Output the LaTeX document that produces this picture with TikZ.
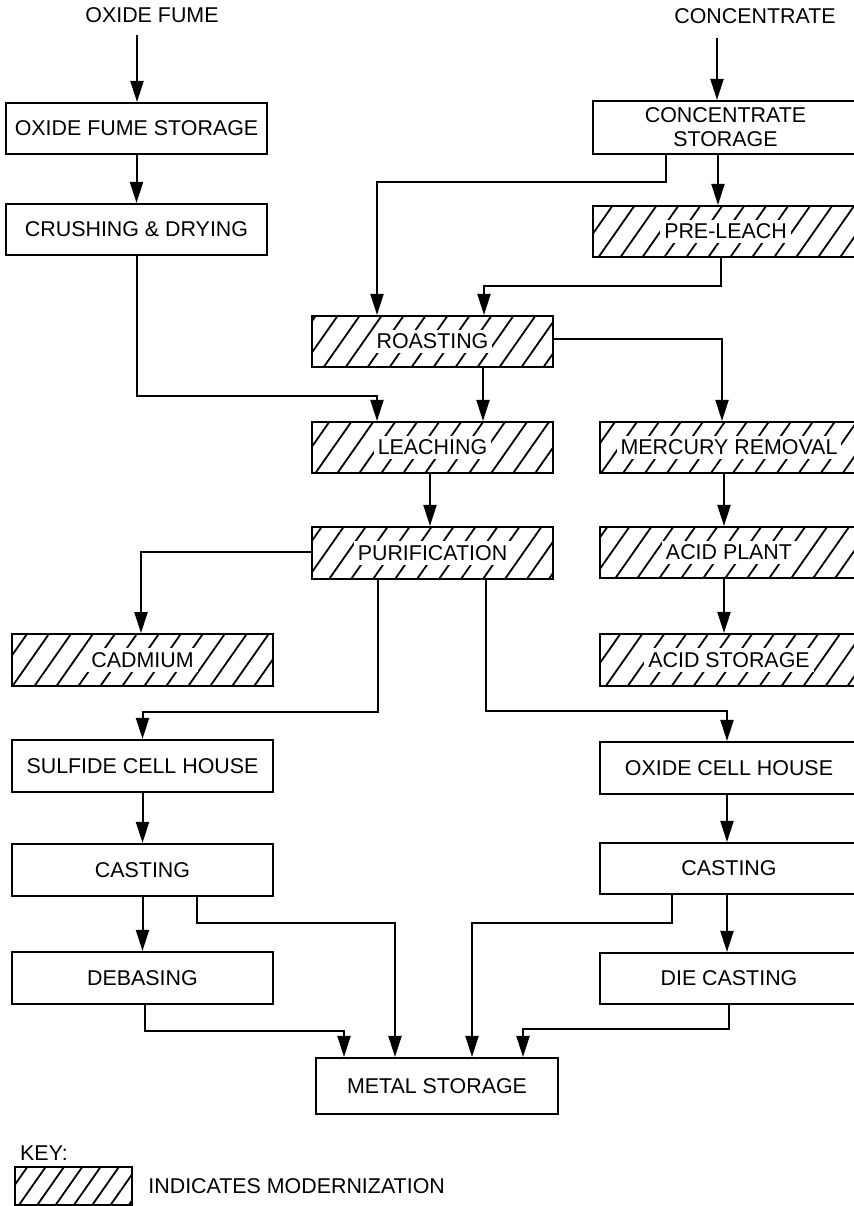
\documentclass[tikz,border=0pt]{standalone}
\usepackage{fontspec}
\setmainfont{Liberation Sans}
\usetikzlibrary{arrows.meta,patterns.meta}
\newcommand\hlt[1]{{\setlength{\fboxsep}{2pt}\colorbox{white}{#1}}}
\begin{document}
\begin{tikzpicture}[x=0.5pt,y=-0.5pt,
  font=\fontsize{10.7}{12}\selectfont,
  box/.style={draw, line width=1.05pt, inner sep=0pt, align=center, minimum width=#1},
  box/.default=130.5pt,
  hh/.style={minimum height=#1},
  hatch/.style={box=#1, pattern={Lines[angle=55,distance=9pt,line width=0.9pt]}},
  hatch/.default=130.5pt,
  conn/.style={line width=1pt, -{Triangle[length=10.5pt,width=6.5pt]}}]
\useasboundingbox (0,0) rectangle (854,1206);
\clip (0,0) rectangle (854,1206);

% top inputs
\node (t1) at (152,15) {OXIDE FUME};
\node (t2) at (755,16) {CONCENTRATE};
\coordinate (s1) at (137,35);
\coordinate (s2) at (717,38);

% left column
\node[box, hh=25.5pt] (ofs) at (136.5,128.5) {OXIDE FUME STORAGE};
\node[box, hh=25.5pt] (crush) at (136.5,229.5) {CRUSHING \& DRYING};
\node[hatch, hh=26pt] (cad) at (142.5,660) {\hlt{CADMIUM}};
\node[box, hh=26pt] (sulf) at (142.5,766) {SULFIDE CELL HOUSE};
\node[box, hh=26pt] (cast1) at (142.5,870) {CASTING};
\node[box, hh=26pt] (deb) at (142.5,978) {DEBASING};

% middle column
\node[hatch=120.5pt, hh=25.5pt] (roast) at (432.5,341.5) {\hlt{ROASTING}};
\node[hatch=120.5pt, hh=25.5pt] (leach) at (432.5,447.5) {\hlt{LEACHING}};
\node[hatch=120.5pt, hh=26pt] (purif) at (432.5,553) {\hlt{PURIFICATION}};
\node[box=121pt, hh=28pt] (metal) at (437,1086) {METAL STORAGE};

% right column
\node[box=132.5pt, hh=26.5pt] (cs) at (725.5,127.5) {CONCENTRATE\\STORAGE};
\node[hatch=132.5pt, hh=25.5pt] (pre) at (725.5,231.5) {\hlt{PRE-LEACH}};
\node[hatch=129pt, hh=25.5pt] (merc) at (729,447.5) {\hlt{MERCURY REMOVAL}};
\node[hatch=129pt, hh=25.5pt] (acidp) at (729,552.5) {\hlt{ACID PLANT}};
\node[hatch=129pt, hh=26pt] (acids) at (729,660) {\hlt{ACID STORAGE}};
\node[box=129pt, hh=26pt] (ocell) at (729,768) {OXIDE CELL HOUSE};
\node[box=129pt, hh=25.5pt] (cast2) at (729,868.5) {CASTING};
\node[box=129pt, hh=25.5pt] (die) at (729,978.5) {DIE CASTING};

% key
\node (keyt) at (44,1153) {KEY:};
\node[box=58.5pt, hh=19pt, pattern={Lines[angle=55,distance=7.5pt,line width=0.9pt]}] (keybox) at (73.5,1186) {};
\node[anchor=west, inner sep=0pt] (keylab) at (148,1186) {INDICATES MODERNIZATION};

% bend levels
\coordinate (h3) at (0,396);
\coordinate (h5) at (0,182);
\coordinate (h7) at (0,286);
\coordinate (h12) at (0,712);
\coordinate (h13) at (0,711);
\coordinate (h18) at (0,923);
\coordinate (h19) at (0,1031);
\coordinate (h22) at (0,923);
\coordinate (h23) at (0,1029);

% shifted ports
\coordinate (leachA) at ([xshift=-27.75pt]leach.north);
\coordinate (leachB) at ([xshift=25.25pt]leach.north);
\coordinate (csA) at ([xshift=-29.75pt]cs.south);
\coordinate (csB) at ([xshift=-3.75pt]cs.south);
\coordinate (preIn) at ([xshift=-3.75pt]pre.north);
\coordinate (preOut) at ([xshift=-2.25pt]pre.south);
\coordinate (roastA) at ([xshift=-27.75pt]roast.north);
\coordinate (roastB) at ([xshift=25.75pt]roast.north);
\coordinate (roastS) at ([xshift=25.25pt]roast.south);
\coordinate (roastE) at ([yshift=1.25pt]roast.east);
\coordinate (mercIn) at ([xshift=-3.5pt]merc.north);
\coordinate (purA) at ([xshift=-27.25pt]purif.south);
\coordinate (purB) at ([xshift=26.75pt]purif.south);
\coordinate (purW) at ([yshift=0.5pt]purif.west);
\coordinate (cadIn) at ([xshift=-0.75pt]cad.north);
\coordinate (ocIn) at ([xshift=-1pt]ocell.north);
\coordinate (c1B) at ([xshift=27.25pt]cast1.south);
\coordinate (debOut) at ([xshift=1.25pt]deb.south);
\coordinate (c2A) at ([xshift=-28.5pt]cast2.south);
\coordinate (mA) at ([xshift=-46.5pt]metal.north);
\coordinate (mB) at ([xshift=-21pt]metal.north);
\coordinate (mC) at ([xshift=17.5pt]metal.north);
\coordinate (mD) at ([xshift=43pt]metal.north);

% connectors
\draw[conn] (s1) -- (s1 |- ofs.north);
\draw[conn] (ofs.south) -- (crush.north);
\draw[conn] (crush.south) -- (crush.south |- h3) -| (leachA);

\draw[conn] (s2) -- (s2 |- cs.north);
\draw[conn] (csA) -- (csA |- h5) -| (roastA);
\draw[conn] (csB) -- (preIn);
\draw[conn] (preOut) -- (preOut |- h7) -| (roastB);

\draw[conn] (roastS) -- (leachB);
\draw[conn] (roastE) -| (mercIn);
\draw[conn] ([xshift=-1.25pt]leach.south) -- ([xshift=-1.25pt]purif.north);
\draw[conn] (purW) -| (cadIn);
\draw[conn] (purA) -- (purA |- h12) -| (sulf.north);
\draw[conn] (purB) -- (purB |- h13) -| (ocIn);

\draw[conn] ([xshift=-2.5pt]merc.south) -- ([xshift=-2.5pt]acidp.north);
\draw[conn] ([xshift=-2.5pt]acidp.south) -- ([xshift=-2.5pt]acids.north);

\draw[conn] (sulf.south) -- (cast1.north);
\draw[conn] (cast1.south) -- (deb.north);
\draw[conn] (c1B) -- (c1B |- h18) -| (mB);
\draw[conn] (debOut) -- (debOut |- h19) -| (mA);

\draw[conn] ([xshift=-1pt]ocell.south) -- ([xshift=-1pt]cast2.north);
\draw[conn] ([xshift=-1pt]cast2.south) -- ([xshift=-1pt]die.north);
\draw[conn] (c2A) -- (c2A |- h22) -| (mC);
\draw[conn] (die.south) -- (die.south |- h23) -| (mD);
\end{tikzpicture}
\end{document}
